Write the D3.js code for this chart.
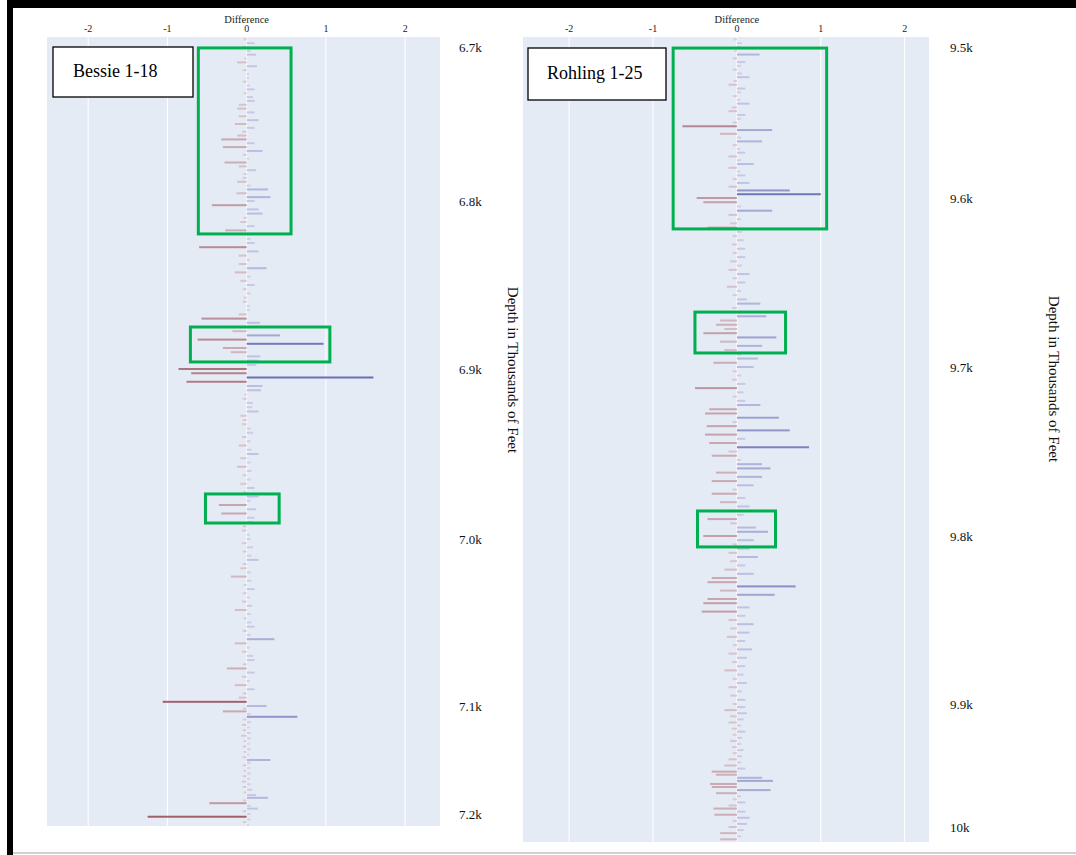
<!DOCTYPE html>
<html>
<head>
<meta charset="utf-8">
<script src="https://cdn.jsdelivr.net/npm/d3@7"></script>
<style>
  html, body { margin: 0; padding: 0; background: #ffffff; }
  svg { display: block; }
  text { font-family: "Liberation Serif", "Times New Roman", serif; }
</style>
</head>
<body>
<svg id="chart" width="1076" height="855"></svg>
<script>
// ---------------- DATA ----------------
const diffTicks = [-2, -1, 0, 1, 2];
const diffTickLabels = ["-2", "-1", "0", "1", "2"];
const depthStep = 2.5;

// Bessie 1-18 : depth ticks and difference values (one bar every 2.5 ft from 6695 ft)
const bessieTicks = [6700, 6800, 6900, 7000, 7100, 7200];
const bessieTickLabels = ["6.7k", "6.8k", "6.9k", "7.0k", "7.1k", "7.2k"];
const bessieStart = 6695;
const bessieValues = [
  // 6695-6697.5
  -0.04, 0.10,
  // 6700-6800
  -0.05, 0.05, 0.12, -0.03, -0.12, 0.13, -0.05, 0.03, 0.03, -0.05,
  0.04, 0.10, -0.04, 0.08, 0.10, -0.10, -0.12, 0.10, -0.10, 0.15,
  -0.15, 0.10, -0.06, -0.12, -0.32, 0.10, -0.30, 0.20, -0.05, 0.03,
  -0.28, -0.10, 0.12, -0.04, -0.05, -0.12, 0.05, 0.27, -0.13, 0.30,
  // 6800-6900
  0.10, -0.44, 0.15, 0.20, -0.04, -0.08, 0.10, -0.27, 0.05, 0.05,
  0.10, -0.60, 0.15, -0.10, 0.04, -0.10, 0.25, -0.15, 0.05, -0.08,
  0.10, -0.05, 0.05, -0.04, -0.05, 0.04, 0.04, -0.10, -0.57, 0.17,
  0.08, -0.18, 0.42, -0.62, 0.97, -0.30, -0.20, 0.17, 0.15, 0.12,
  // 6900-7000
  -0.86, -0.70, 1.60, -0.76, 0.20, 0.18, -0.03, -0.05, 0.08, 0.07,
  0.15, -0.08, -0.05, -0.06, 0.05, 0.08, -0.06, 0.05, -0.10, 0.06,
  0.15, -0.08, 0.05, -0.12, 0.06, -0.05, 0.05, -0.08, 0.10, -0.04,
  0.15, 0.05, -0.35, 0.12, -0.32, 0.10, 0.08, -0.05, -0.06, 0.04,
  // 7000-7100
  0.05, -0.06, 0.08, -0.05, 0.06, 0.15, -0.05, -0.08, 0.05, -0.20,
  0.06, -0.04, 0.10, -0.05, 0.04, -0.06, 0.07, -0.15, 0.05, -0.04,
  0.06, 0.10, -0.05, 0.05, 0.35, -0.15, 0.04, -0.06, 0.08, 0.10,
  -0.05, -0.25, 0.10, -0.06, 0.04, -0.15, 0.10, -0.05, -0.10, -1.06,
  // 7100-7200
  0.25, -0.05, -0.30, 0.05, 0.64, -0.05, 0.05, -0.06, 0.04, -0.05,
  0.05, -0.07, 0.05, -0.04, 0.04, -0.05, 0.05, -0.04, 0.03, -0.05,
  0.30, 0.05, -0.05, 0.04, -0.04, 0.05, -0.05, 0.04, -0.06, 0.05,
  -0.05, 0.07, -0.04, 0.12, 0.27, -0.05, -0.47, 0.05, 0.14, -0.05,
  // 7200-7210
  0.05, -1.25, 0.05, -0.05, 0.03
];

// Rohling 1-25 : depth ticks and difference values (one bar every 2.5 ft from 9495 ft)
const rohlingTicks = [9500, 9600, 9700, 9800, 9900, 10000];
const rohlingTickLabels = ["9.5k", "9.6k", "9.7k", "9.8k", "9.9k", "10k"];
const rohlingStart = 9495;
const rohlingValues = [
  // 9495-9497.5
  -0.04, 0.06,
  // 9500-9600
  0.05, -0.03, 0.27, -0.05, 0.10, 0.05, -0.05, 0.06, 0.15, -0.04,
  -0.10, 0.10, 0.05, -0.05, 0.04, 0.15, -0.06, -0.10, 0.10, 0.05,
  -0.05, -0.65, 0.42, -0.20, 0.05, 0.30, -0.05, 0.04, 0.10, -0.10,
  0.05, 0.20, -0.10, 0.04, 0.10, -0.05, 0.15, -0.10, 0.63, 1.00,
  // 9600-9700
  -0.48, -0.40, 0.05, 0.42, -0.10, 0.05, -0.08, -0.35, 0.06, -0.05,
  0.08, -0.06, 0.10, -0.05, 0.10, -0.08, 0.06, -0.10, 0.15, -0.05,
  0.10, -0.12, 0.05, -0.05, 0.12, 0.28, -0.06, 0.05, 0.35, -0.20,
  -0.25, -0.15, -0.40, 0.47, -0.20, 0.30, -0.15, 0.05, 0.25, -0.28,
  // 9700-9800
  0.20, -0.05, 0.05, -0.06, 0.10, -0.50, 0.08, -0.05, 0.10, 0.28,
  -0.33, -0.38, 0.50, -0.05, -0.36, 0.63, -0.38, 0.10, -0.33, 0.86,
  -0.10, -0.30, 0.05, 0.30, 0.40, -0.25, 0.30, -0.30, 0.20, -0.05,
  -0.30, 0.10, -0.20, 0.15, -0.05, 0.08, -0.35, -0.08, 0.23, 0.37,
  // 9800-9900
  -0.40, 0.20, -0.05, 0.15, -0.10, 0.25, -0.08, 0.10, -0.15, 0.20,
  -0.30, -0.35, 0.70, -0.20, 0.45, -0.35, -0.40, 0.15, -0.42, 0.10,
  -0.10, 0.20, -0.08, 0.15, -0.12, 0.10, -0.05, 0.18, -0.10, 0.12,
  -0.06, 0.10, -0.15, 0.08, -0.05, 0.12, -0.10, 0.06, -0.08, 0.10,
  // 9900-10000
  -0.05, 0.10, -0.15, 0.12, -0.08, 0.08, -0.10, 0.05, -0.06, 0.10,
  -0.05, 0.06, -0.08, 0.05, -0.06, 0.08, -0.05, 0.06, -0.10, 0.05,
  -0.15, 0.10, -0.30, -0.25, 0.30, 0.43, -0.32, -0.30, 0.40, -0.25,
  0.05, -0.05, 0.10, -0.10, -0.28, 0.10, -0.27, 0.15, -0.05, 0.12,
  // 10000-10010
  -0.10, 0.08, -0.20, 0.05, -0.20
];

// highlighted intervals: [diffFrom, diffTo, depthFrom, depthTo]
const bessieBoxes = [
  [-0.61, 0.56, 6700.6, 6819.6],
  [-0.71, 1.05, 6875.0, 6895.8],
  [-0.52, 0.41, 6973.5, 6990.6]
];
const rohlingBoxes = [
  [-0.76, 1.07, 9500.7, 9618.3],
  [-0.50, 0.58, 9667.5, 9691.7],
  [-0.47, 0.46, 9785.2, 9806.5]
];

// ---------------- LAYOUT ----------------
const panels = [
  {
    name: "Bessie 1-18", values: bessieValues, start: bessieStart,
    ticks: bessieTicks, tickLabels: bessieTickLabels, boxes: bessieBoxes,
    xDomain: [-2.52, 2.44], xRange: [47, 440],
    yDomain: [6693.5, 6700, 6800, 6900, 7000, 7100, 7200, 7211],
    yRange:  [37, 47, 201, 369, 539, 706, 814, 826],
    labelX: 459, titleX: 511, titleY: 370,
    nameBox: { x: 53, y: 47, w: 140, h: 50, tx: 73, ty: 77 }
  },
  {
    name: "Rohling 1-25", values: rohlingValues, start: rohlingStart,
    ticks: rohlingTicks, tickLabels: rohlingTickLabels, boxes: rohlingBoxes,
    xDomain: [-2.55, 2.29], xRange: [523, 929],
    yDomain: [9493.4, 9500, 9600, 9700, 9800, 9900, 10000, 10012.2],
    yRange:  [37, 47, 198, 367, 536, 704, 827, 842],
    labelX: 950, titleX: 1052, titleY: 379,
    nameBox: { x: 528, y: 48, w: 138, h: 52, tx: 547, ty: 79 }
  }
];

const svg = d3.select("#chart");

const negColor = d3.interpolateRgb("#e0d3dc", "#a0606a");
const posColor = d3.interpolateRgb("#d6d9ee", "#6a6fb6");
const colorFor = v => v < 0 ? negColor(Math.min(1, Math.pow(-v / 1.1, 0.8)))
                            : posColor(Math.min(1, Math.pow(v / 1.1, 0.8)));

panels.forEach(p => {
  const x = d3.scaleLinear().domain(p.xDomain).range(p.xRange);
  const y = d3.scaleLinear().domain(p.yDomain).range(p.yRange);
  const g = svg.append("g");

  // background
  g.append("rect")
    .attr("x", p.xRange[0]).attr("y", p.yRange[0])
    .attr("width", p.xRange[1] - p.xRange[0])
    .attr("height", p.yRange[p.yRange.length - 1] - p.yRange[0])
    .attr("fill", "#e5ebf5");

  // grid
  g.selectAll(".grid").data(diffTicks).join("line")
    .attr("x1", d => x(d)).attr("x2", d => x(d))
    .attr("y1", p.yRange[0]).attr("y2", p.yRange[p.yRange.length - 1])
    .attr("stroke", "#ffffff").attr("stroke-width", 1);

  // top axis labels
  g.selectAll(".tl").data(diffTicks).join("text")
    .attr("x", d => x(d)).attr("y", 32)
    .attr("text-anchor", "middle")
    .attr("font-size", 10).attr("fill", "#222")
    .text((d, i) => diffTickLabels[i]);
  g.append("text")
    .attr("x", x(0)).attr("y", 22.5)
    .attr("text-anchor", "middle")
    .attr("font-size", 10.5).attr("fill", "#222")
    .text("Difference");

  // bars
  const data = p.values.map((v, i) => ({ depth: p.start + i * depthStep, v }));
  g.selectAll(".bar").data(data).join("rect")
    .attr("x", d => Math.min(x(0), x(d.v)))
    .attr("width", d => Math.abs(x(d.v) - x(0)))
    .attr("y", d => y(d.depth) - 1)
    .attr("height", 2)
    .attr("fill", d => colorFor(d.v));

  // highlight boxes
  g.selectAll(".hb").data(p.boxes).join("rect")
    .attr("x", d => x(d[0])).attr("width", d => x(d[1]) - x(d[0]))
    .attr("y", d => y(d[2])).attr("height", d => y(d[3]) - y(d[2]))
    .attr("fill", "none").attr("stroke", "#00b050").attr("stroke-width", 3);

  // depth labels
  g.selectAll(".dl").data(p.ticks).join("text")
    .attr("x", p.labelX).attr("y", d => y(d) + 4.5)
    .attr("font-size", 13).attr("fill", "#111")
    .text((d, i) => p.tickLabels[i]);

  // depth title
  g.append("text")
    .attr("transform", `translate(${p.titleX},${p.titleY}) rotate(90)`)
    .attr("text-anchor", "middle").attr("dominant-baseline", "middle")
    .attr("font-size", 15).attr("fill", "#111")
    .text("Depth in Thousands of Feet");

  // name box
  const nb = p.nameBox;
  g.append("rect")
    .attr("x", nb.x).attr("y", nb.y).attr("width", nb.w).attr("height", nb.h)
    .attr("fill", "#ffffff").attr("stroke", "#000").attr("stroke-width", 1.3);
  g.append("text")
    .attr("x", nb.tx).attr("y", nb.ty)
    .attr("font-size", 18).attr("fill", "#000")
    .text(p.name);
});

// frame of the screenshot
svg.append("rect").attr("x", 7).attr("y", 0).attr("width", 1069).attr("height", 8).attr("fill", "#000");
svg.append("rect").attr("x", 7).attr("y", 0).attr("width", 6).attr("height", 855).attr("fill", "#000");
svg.append("rect").attr("x", 13).attr("y", 852).attr("width", 1063).attr("height", 2).attr("fill", "#d0d0d0");
</script>
</body>
</html>
